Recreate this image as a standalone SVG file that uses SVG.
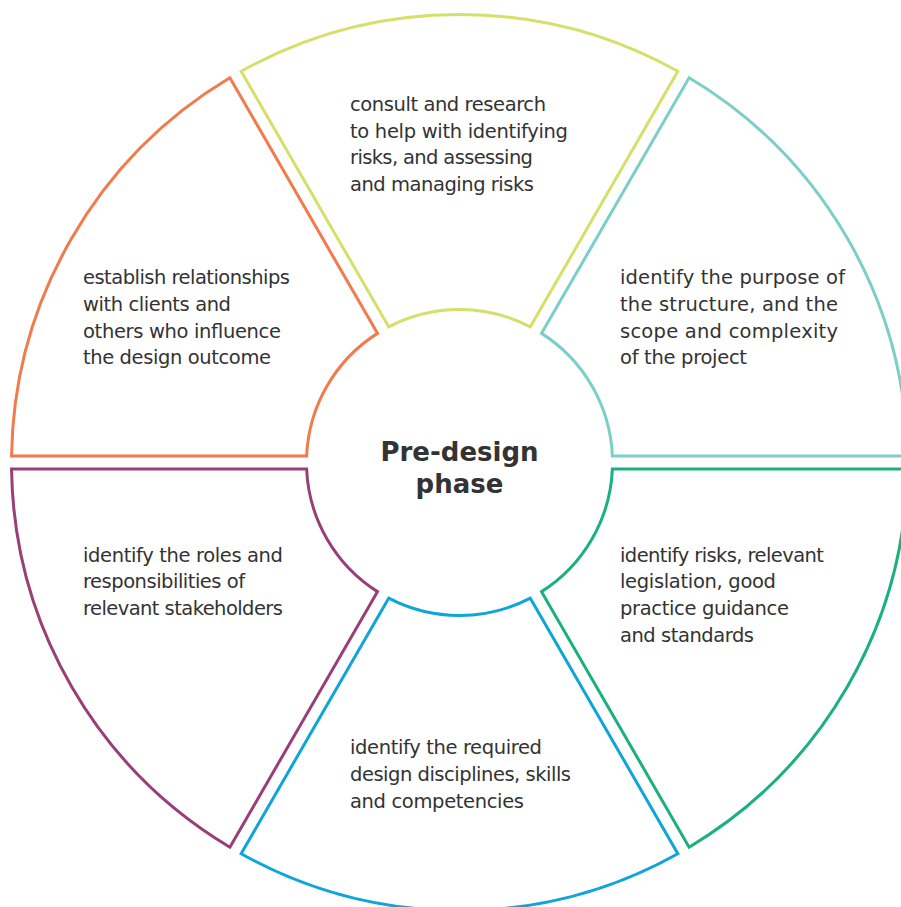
<svg xmlns="http://www.w3.org/2000/svg" width="901" height="907" viewBox="0 0 901 907">
<style>
.seg{fill:none;stroke-width:3;stroke-linejoin:miter}
.t{font-family:"DejaVu Sans","Liberation Sans",sans-serif;font-size:19.5px;fill:#333}
.c{font-family:"DejaVu Sans","Liberation Sans",sans-serif;font-size:26px;font-weight:bold;fill:#333;text-anchor:middle}
</style>
<rect width="901" height="907" fill="#fff"/>
<g id="seg-top">
<path class="seg" stroke="#d5df6a" d="M388.698,326.868 L241.152,71.311 A448,448 0 0 1 677.848,71.311 L530.302,326.868 A153,153 0 0 0 388.698,326.868 Z"/>
<text class="t" x="350" y="111" textLength="196">consult and research</text>
<text class="t" x="350" y="137.7" textLength="218">to help with identifying</text>
<text class="t" x="350" y="164.3" textLength="183">risks, and assessing</text>
<text class="t" x="350" y="191" textLength="184">and managing risks</text>
</g>
<g id="seg-right-top">
<path class="seg" stroke="#7ccfc8" d="M541.56,333.368 L689.106,77.811 A448,448 0 0 1 907.453,456 L612.362,456 A153,153 0 0 0 541.56,333.368 Z"/>
<text class="t" x="620" y="284.3" textLength="225">identify the purpose of</text>
<text class="t" x="620" y="311" textLength="218">the structure, and the</text>
<text class="t" x="620" y="337.7" textLength="218">scope and complexity</text>
<text class="t" x="620" y="364.3" textLength="127">of the project</text>
</g>
<g id="seg-right-bottom">
<path class="seg" stroke="#1ab17f" d="M612.362,469 L907.453,469 A448,448 0 0 1 689.106,847.189 L541.56,591.632 A153,153 0 0 0 612.362,469 Z"/>
<text class="t" x="620" y="561.7" textLength="204">identify risks, relevant</text>
<text class="t" x="620" y="588.3" textLength="156">legislation, good</text>
<text class="t" x="620" y="615" textLength="169">practice guidance</text>
<text class="t" x="620" y="641.7" textLength="134">and standards</text>
</g>
<g id="seg-bottom">
<path class="seg" stroke="#0ea5db" d="M530.302,598.132 L677.848,853.689 A448,448 0 0 1 241.152,853.689 L388.698,598.132 A153,153 0 0 0 530.302,598.132 Z"/>
<text class="t" x="350" y="754.3" textLength="192">identify the required</text>
<text class="t" x="350" y="781" textLength="221">design disciplines, skills</text>
<text class="t" x="350" y="807.7" textLength="174">and competencies</text>
</g>
<g id="seg-left-bottom">
<path class="seg" stroke="#983f78" d="M377.44,591.632 L229.894,847.189 A448,448 0 0 1 11.547,469 L306.638,469 A153,153 0 0 0 377.44,591.632 Z"/>
<text class="t" x="83" y="561.7" textLength="200">identify the roles and</text>
<text class="t" x="83" y="588.3" textLength="162">responsibilities of</text>
<text class="t" x="83" y="615" textLength="200">relevant stakeholders</text>
</g>
<g id="seg-left-top">
<path class="seg" stroke="#f07b4c" d="M306.638,456 L11.547,456 A448,448 0 0 1 229.894,77.811 L377.44,333.368 A153,153 0 0 0 306.638,456 Z"/>
<text class="t" x="83" y="284.3" textLength="207">establish relationships</text>
<text class="t" x="83" y="311" textLength="148">with clients and</text>
<text class="t" x="83" y="337.7" textLength="198">others who influence</text>
<text class="t" x="83" y="364.3" textLength="188">the design outcome</text>
</g>
<g id="center">
<text class="c" x="459.5" y="461">Pre-design</text>
<text class="c" x="459.5" y="493">phase</text>
</g>
<g id="connectors"></g>
</svg>
